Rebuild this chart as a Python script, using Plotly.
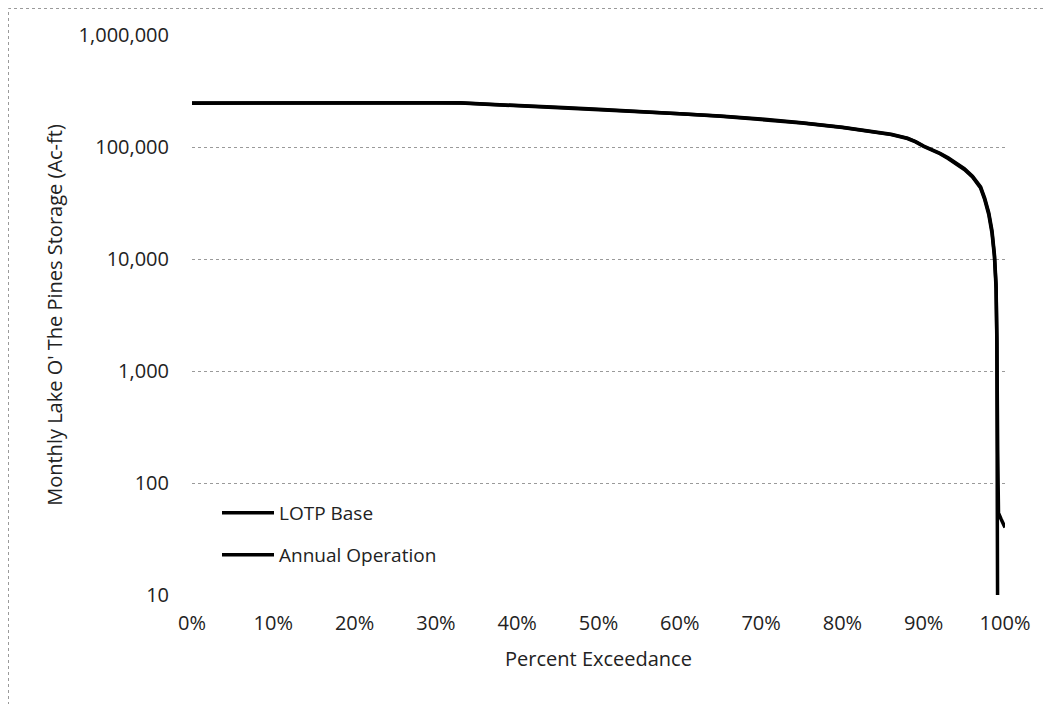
import plotly.graph_objects as go

# Percent exceedance (fraction) and monthly storage (Ac-ft)
pct_base = [0.00, 0.05, 0.10, 0.15, 0.20, 0.25, 0.30, 0.33, 0.36, 0.40, 0.45,
            0.50, 0.55, 0.60, 0.65, 0.70, 0.75, 0.80, 0.83, 0.86, 0.88, 0.89,
            0.90, 0.91, 0.92, 0.93, 0.94, 0.95, 0.96, 0.965, 0.97, 0.975,
            0.98, 0.984, 0.987, 0.989, 0.990, 0.991, 0.992, 0.995, 1.00]
lotp_base = [247000, 247000, 248000, 248000, 248000, 249000, 249000, 248000,
             242000, 236000, 226000, 217000, 208000, 199000, 189000, 178000,
             165000, 150000, 140000, 130000, 120000, 112000, 102000, 95000,
             88000, 80000, 72000, 64000, 55000, 49000, 44000, 35000, 26000,
             18000, 11000, 6000, 2000, 200, 54, 48, 40]

pct_annual = [0.00, 0.05, 0.10, 0.15, 0.20, 0.25, 0.30, 0.33, 0.36, 0.40, 0.45,
              0.50, 0.55, 0.60, 0.65, 0.70, 0.75, 0.80, 0.83, 0.86, 0.88, 0.89,
              0.90, 0.91, 0.92, 0.93, 0.94, 0.95, 0.96, 0.965, 0.97, 0.975,
              0.98, 0.984, 0.987, 0.989, 0.990, 0.9905, 0.991]
annual_op = [246000, 247000, 247000, 248000, 248000, 248000, 249000, 247000,
             241000, 235000, 225000, 216000, 207000, 198000, 188000, 177000,
             164000, 149000, 139000, 129000, 119000, 111000, 101000, 94000,
             87000, 79000, 71000, 63000, 54000, 48000, 43000, 34000, 25000,
             17000, 10500, 5500, 1800, 60, 5]

y_tickvals = [10, 100, 1000, 10000, 100000, 1000000]
y_ticktext = ["10", "100", "1,000", "10,000", "100,000", "1,000,000"]
x_tickvals = [0, 0.1, 0.2, 0.3, 0.4, 0.5, 0.6, 0.7, 0.8, 0.9, 1.0]
x_ticktext = ["0%", "10%", "20%", "30%", "40%", "50%", "60%", "70%", "80%", "90%", "100%"]

FONT = "Open Sans"
OFF = 8  # page body margin
W, H = 1051 - OFF, 704 - OFF
L, T = 192 - OFF, 35 - OFF
pw, ph = 813, 560
R, B = W - L - pw, H - T - ph

def py(abs_y):
    return (T + ph - (abs_y - OFF)) / ph

def px(abs_x):
    return ((abs_x - OFF) - L) / pw

fig = go.Figure()
fig.add_trace(go.Scatter(x=pct_base, y=lotp_base, mode="lines", name="LOTP Base",
                         line=dict(color="#000000", width=3.5), legend="legend",
                         showlegend=True))
fig.add_trace(go.Scatter(x=pct_annual, y=annual_op, mode="lines", name="Annual Operation",
                         line=dict(color="#000000", width=3.5), legend="legend2",
                         showlegend=True))

leg_common = dict(bgcolor="rgba(0,0,0,0)", borderwidth=0, visible=True,
                  itemwidth=52,
                  font=dict(family=FONT, size=19, color="#222"),
                  xanchor="left", yanchor="middle")
fig.update_layout(
    width=W, height=H, showlegend=True,
    margin=dict(l=L, r=R, t=T, b=B),
    paper_bgcolor="white", plot_bgcolor="white",
    font=dict(family=FONT, size=20, color="#222"),
    legend=dict(x=px(217), y=py(513), **leg_common),
    legend2=dict(x=px(217), y=py(555), **leg_common),
    xaxis=dict(range=[0, 1.0], tickvals=x_tickvals, ticktext=x_ticktext,
               showgrid=False, zeroline=False, showline=False, ticks="",
               ticklabelstandoff=14,
               tickfont=dict(family=FONT, size=20, color="#222"),
               title=dict(text="Percent Exceedance", standoff=16,
                          font=dict(family=FONT, size=20, color="#222"))),
    yaxis=dict(type="log", range=[1, 6], tickvals=y_tickvals, ticktext=y_ticktext,
               showgrid=True, gridcolor="#9a9a9a", griddash="dot", gridwidth=1,
               zeroline=False, showline=False, ticks="",
               ticklabelstandoff=22,
               tickfont=dict(family=FONT, size=20, color="#222"),
               title=dict(text="Monthly Lake O' The Pines Storage (Ac-ft)", standoff=10,
                          font=dict(family=FONT, size=20, color="#222"))),
    shapes=[dict(type="rect", xref="paper", yref="paper",
                 x0=px(8.5), x1=px(1051 + 20),
                 y0=py(704 + 20), y1=py(8.5),
                 line=dict(color="#9a9a9a", width=1, dash="dot"), layer="below")],
)

fig.write_html("out.html")
